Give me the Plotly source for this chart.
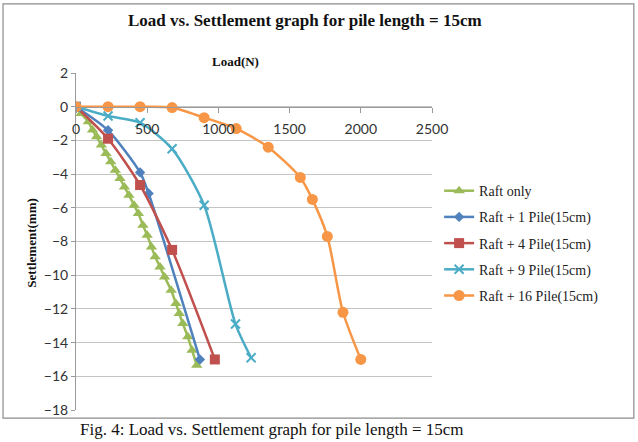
import plotly.graph_objects as go

# ---- data ----
raft_x = [0, 35, 87, 116, 145, 178, 211, 244, 276, 309, 340, 372, 408, 438, 470, 500, 530,
          556, 590, 622, 668, 702, 725, 750, 785, 815, 848]
raft_y = [0, -0.4, -0.9, -1.39, -1.79, -2.28, -2.78, -3.27, -3.77, -4.26, -4.76, -5.25, -5.85,
          -6.34, -7.03, -7.63, -8.32, -8.91, -9.51, -10.1, -10.89, -11.68, -12.28, -12.87,
          -13.66, -14.45, -15.34]

p1_x = [0, 225, 450, 510, 870]
p1_y = [0, -1.4, -3.9, -5.15, -15.0]

p4_x = [0, 225, 450, 675, 975]
p4_y = [0, -1.9, -4.65, -8.5, -15.0]

p9_x = [0, 225, 450, 675, 900, 1120, 1230]
p9_y = [0, -0.55, -0.95, -2.5, -5.85, -12.9, -14.9]

p16_x = [0, 225, 450, 675, 900, 1125, 1350, 1575, 1660, 1765, 1875, 2000]
p16_y = [0, 0, 0, -0.05, -0.65, -1.3, -2.4, -4.2, -5.5, -7.7, -12.2, -15.0]

names = ["Raft only", "Raft + 1 Pile(15cm)", "Raft + 4 Pile(15cm)",
         "Raft + 9 Pile(15cm)", "Raft + 16 Pile(15cm)"]
colors = ["#9BBB59", "#4F81BD", "#C0504D", "#4BACC6", "#F79646"]

x_ticks = [0, 500, 1000, 1500, 2000, 2500]
y_ticks = list(range(-18, 3, 2))

# ---- figure ----
fig = go.Figure()
series = [(raft_x, raft_y, "triangle-up", 10),
          (p1_x, p1_y, "diamond", 8),
          (p4_x, p4_y, "square", 10),
          (p9_x, p9_y, "x-thin", 9),
          (p16_x, p16_y, "circle", 11)]
for i, (xs, ys, sym, sz) in enumerate(series):
    marker = dict(symbol=sym, size=sz, color=colors[i])
    if sym == "x-thin":
        marker["line"] = dict(color=colors[i], width=2)
    fig.add_trace(go.Scatter(
        x=xs, y=ys, name=names[i], mode="lines+markers",
        line=dict(color=colors[i], width=2.5, shape="spline", smoothing=0.7),
        marker=marker, legendgroup=str(i)))

tick_font = dict(family="Lato, Arial, sans-serif", size=14, color="#333333")
serif_bold = "Liberation Serif, Times New Roman, serif"

fig.update_layout(
    width=638, height=442,
    margin=dict(l=76, r=206, t=73, b=32),
    paper_bgcolor="white", plot_bgcolor="white",
    showlegend=True,
    legend=dict(x=1.02, y=0.697, xanchor="left", yanchor="top",
                font=dict(family="Liberation Serif, Times New Roman, serif", size=14, color="#222222"),
                tracegroupgap=5, traceorder="grouped", bgcolor="rgba(0,0,0,0)",
                itemwidth=30),
    xaxis=dict(range=[0, 2500], tickvals=x_ticks, showgrid=False, zeroline=False,
               showline=True, linecolor="#9a9a9a", linewidth=1,
               ticks="outside", ticklen=5, tickcolor="#9a9a9a",
               anchor="free", position=0.9, tickfont=tick_font,
               ticklabelstandoff=4, fixedrange=True),
    yaxis=dict(range=[-18, 2], tickvals=y_ticks, showgrid=True, gridcolor="#c4c4c4",
               gridwidth=1, zeroline=False, showline=True, linecolor="#9a9a9a",
               linewidth=1, ticks="outside", ticklen=4, tickcolor="#9a9a9a",
               tickfont=tick_font, fixedrange=True),
    shapes=[dict(type="rect", xref="paper", yref="paper",
                 x0=-0.205, x1=1.567, y0=-0.024, y1=1.205,
                 line=dict(color="#8c8c8c", width=1.2), fillcolor="rgba(0,0,0,0)",
                 layer="below")],
    annotations=[
        dict(text="<b>Load vs. Settlement graph for pile length = 15cm</b>",
             xref="paper", yref="paper", x=0.643, y=1.157, showarrow=False,
             xanchor="center", yanchor="middle",
             font=dict(family=serif_bold, size=17, color="#111111")),
        dict(text="<b>Load(N)</b>", xref="paper", yref="paper", x=0.449, y=1.033,
             showarrow=False, xanchor="center", yanchor="middle",
             font=dict(family=serif_bold, size=13, color="#111111")),
        dict(text="<b>Settlement(mm)</b>", xref="paper", yref="paper", x=-0.124, y=0.496,
             showarrow=False, xanchor="center", yanchor="middle", textangle=-90,
             font=dict(family=serif_bold, size=13, color="#111111")),
        dict(text="Fig. 4: Load vs. Settlement graph for pile length = 15cm",
             xref="paper", yref="paper", x=0.551, y=-0.059, showarrow=False,
             xanchor="center", yanchor="middle",
             font=dict(family="Liberation Serif, Times New Roman, serif", size=17, color="#111111")),
    ],
)

fig.write_html("out.html")
